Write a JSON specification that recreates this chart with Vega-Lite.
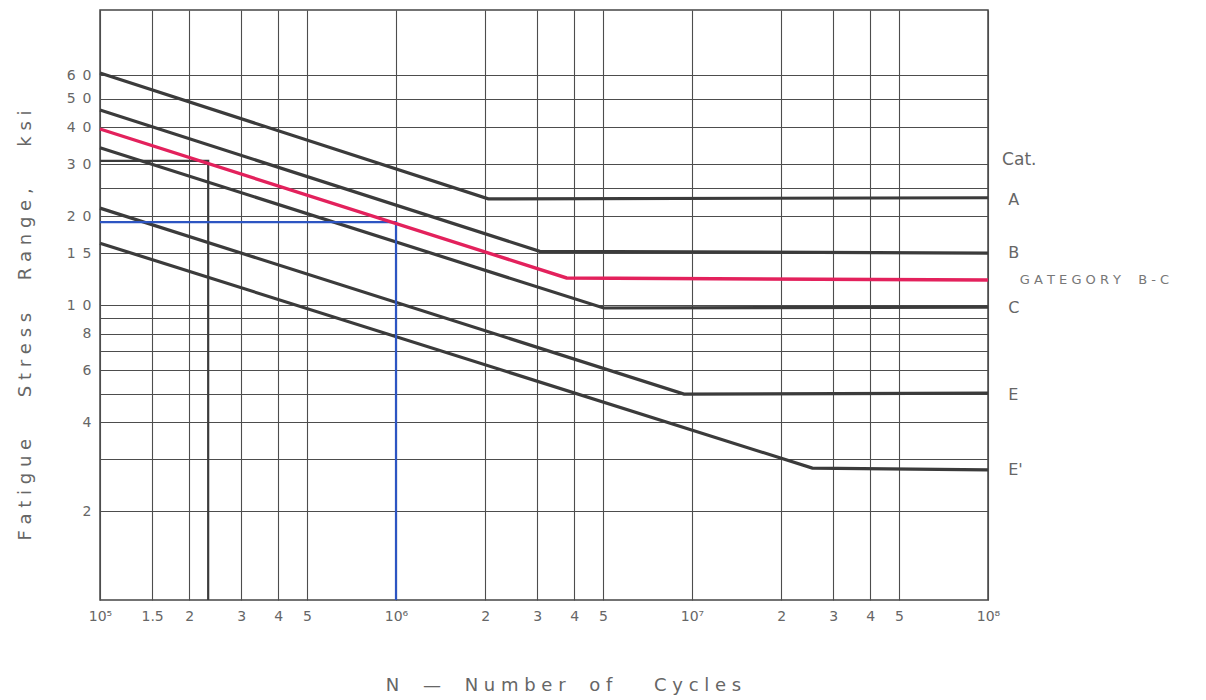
{
  "$schema": "https://vega.github.io/schema/vega-lite/v6.json",
  "width": 888,
  "height": 590,
  "autosize": "none",
  "padding": {"left": 100, "top": 10, "right": 218, "bottom": 100},
  "background": "white",
  "config": {
    "view": {"stroke": "#454545", "strokeWidth": 1.5},
    "font": "DejaVu Sans"
  },
  "datasets": {
    "curves": [
      {"cat": "A", "k": 1, "n": 100000, "s": 61.2},
      {"cat": "A", "k": 2, "n": 2050000, "s": 22.9},
      {"cat": "A", "k": 3, "n": 100000000, "s": 23.1},
      {"cat": "B", "k": 1, "n": 100000, "s": 45.8},
      {"cat": "B", "k": 2, "n": 3060000, "s": 15.2},
      {"cat": "B", "k": 3, "n": 100000000, "s": 15.0},
      {"cat": "B'", "k": 1, "n": 100000, "s": 39.5},
      {"cat": "B'", "k": 2, "n": 3770000, "s": 12.35},
      {"cat": "B'", "k": 3, "n": 100000000, "s": 12.15},
      {"cat": "C", "k": 1, "n": 100000, "s": 34.1},
      {"cat": "C", "k": 2, "n": 5030000, "s": 9.77},
      {"cat": "C", "k": 3, "n": 100000000, "s": 9.84},
      {"cat": "E", "k": 1, "n": 100000, "s": 21.3},
      {"cat": "E", "k": 2, "n": 9400000, "s": 4.99},
      {"cat": "E", "k": 3, "n": 100000000, "s": 5.03},
      {"cat": "E'", "k": 1, "n": 100000, "s": 16.2},
      {"cat": "E'", "k": 2, "n": 25500000, "s": 2.8},
      {"cat": "E'", "k": 3, "n": 100000000, "s": 2.76}
    ],
    "guides": [
      {"g": "dark", "k": 1, "n": 100000, "s": 30.8},
      {"g": "dark", "k": 2, "n": 232000, "s": 30.8},
      {"g": "dark", "k": 3, "n": 232000, "s": 1},
      {"g": "blue", "k": 1, "n": 100000, "s": 19.1},
      {"g": "blue", "k": 2, "n": 1000000, "s": 19.1},
      {"g": "blue", "k": 3, "n": 1000000, "s": 1}
    ],
    "labels": [
      {"label": "A", "n": 117000000, "s": 22.7},
      {"label": "B", "n": 117000000, "s": 15.0},
      {"label": "C", "n": 117000000, "s": 9.77},
      {"label": "E", "n": 117000000, "s": 4.95},
      {"label": "E'", "n": 117000000, "s": 2.76}
    ],
    "heading": [
      {"label": "Cat.", "n": 111600000, "s": 31.0}
    ],
    "note": [
      {"label": "G A T E G O R Y\u2003 B - C", "n": 128000000, "s": 12.15}
    ]
  },
  "encoding": {
    "x": {
      "field": "n",
      "type": "quantitative",
      "scale": {"type": "log", "domain": [100000, 100000000], "nice": false},
      "axis": {
        "values": [100000, 150000, 200000, 300000, 400000, 500000, 1000000, 2000000, 3000000, 4000000, 5000000, 10000000, 20000000, 30000000, 40000000, 50000000, 100000000],
        "grid": true,
        "gridColor": "#4d4d4d",
        "gridWidth": 1.1,
        "gridOpacity": 1,
        "ticks": false,
        "domain": false,
        "labelExpr": "datum.value == 100000 ? '10⁵' : datum.value == 1000000 ? '10⁶' : datum.value == 10000000 ? '10⁷' : datum.value == 100000000 ? '10⁸' : datum.value == 150000 ? '1.5' : toString(round(datum.value / pow(10, floor(log(datum.value) / LN10 + 0.000001))))",
        "labelFont": "DejaVu Sans",
        "labelFontSize": 14,
        "labelColor": "#666666",
        "labelPadding": 9,
        "labelFlush": false,
        "labelOverlap": false,
        "labelBound": false,
        "title": "N\u2003 —\u2003 N u m b e r\u2003 o f\u2003\u2003 C y c l e s",
        "titleFont": "DejaVu Sans",
        "titleFontSize": 18,
        "titleFontWeight": "normal",
        "titleColor": "#666666",
        "titleX": 463,
        "titleY": 85,
        "titleAlign": "center",
        "titleBaseline": "middle"
      }
    },
    "y": {
      "field": "s",
      "type": "quantitative",
      "scale": {"type": "log", "domain": [1, 100], "nice": false},
      "axis": {
        "values": [2, 3, 4, 5, 6, 7, 8, 9, 10, 15, 20, 25, 30, 40, 50, 60],
        "grid": true,
        "gridColor": "#4d4d4d",
        "gridWidth": 1.1,
        "gridOpacity": 1,
        "ticks": false,
        "domain": false,
        "labelExpr": "datum.value == 60 ? '6\u20020' : datum.value == 50 ? '5\u20020' : datum.value == 40 ? '4\u20020' : datum.value == 30 ? '3\u20020' : datum.value == 20 ? '2\u20020' : datum.value == 15 ? '1\u20025' : datum.value == 10 ? '1\u20020' : (datum.value == 8 || datum.value == 6 || datum.value == 4 || datum.value == 2) ? toString(datum.value) : ''",
        "labelFont": "DejaVu Sans",
        "labelFontSize": 14,
        "labelColor": "#666666",
        "labelPadding": 9,
        "labelOverlap": false,
        "labelBound": false,
        "title": "F a t i g u e\u2003\u2003 S t r e s s\u2003\u2002 R a n g e ,\u2003\u2003 k s i",
        "titleFont": "DejaVu Sans",
        "titleFontSize": 18,
        "titleFontWeight": "normal",
        "titleColor": "#666666",
        "titleX": -75,
        "titleY": 315,
        "titleAngle": 270,
        "titleAlign": "center",
        "titleBaseline": "middle"
      }
    }
  },
  "layer": [
    {
      "data": {"name": "curves"},
      "transform": [{"filter": {"not": {"field": "cat", "equal": "B'"}}}],
      "mark": {"type": "line", "color": "#3b3b3b", "strokeWidth": 3.2},
      "encoding": {"detail": {"field": "cat"}, "order": {"field": "k", "type": "quantitative"}}
    },
    {
      "data": {"name": "guides"},
      "transform": [{"filter": {"field": "g", "equal": "dark"}}],
      "mark": {"type": "line", "color": "#3b3b3b", "strokeWidth": 2.2},
      "encoding": {"order": {"field": "k", "type": "quantitative"}}
    },
    {
      "data": {"name": "guides"},
      "transform": [{"filter": {"field": "g", "equal": "blue"}}],
      "mark": {"type": "line", "color": "#2d55c2", "strokeWidth": 2.2},
      "encoding": {"order": {"field": "k", "type": "quantitative"}}
    },
    {
      "data": {"name": "curves"},
      "transform": [{"filter": {"field": "cat", "equal": "B'"}}],
      "mark": {"type": "line", "color": "#e3215c", "strokeWidth": 3.4},
      "encoding": {"order": {"field": "k", "type": "quantitative"}}
    },
    {
      "data": {"name": "labels"},
      "mark": {"type": "text", "align": "left", "baseline": "middle", "font": "DejaVu Sans", "fontSize": 16, "color": "#666666"},
      "encoding": {"text": {"field": "label"}}
    },
    {
      "data": {"name": "heading"},
      "mark": {"type": "text", "align": "left", "baseline": "middle", "font": "DejaVu Sans", "fontSize": 17, "color": "#666666"},
      "encoding": {"text": {"field": "label"}}
    },
    {
      "data": {"name": "note"},
      "mark": {"type": "text", "align": "left", "baseline": "middle", "font": "DejaVu Sans", "fontSize": 13, "color": "#777777"},
      "encoding": {"text": {"field": "label"}}
    }
  ]
}
